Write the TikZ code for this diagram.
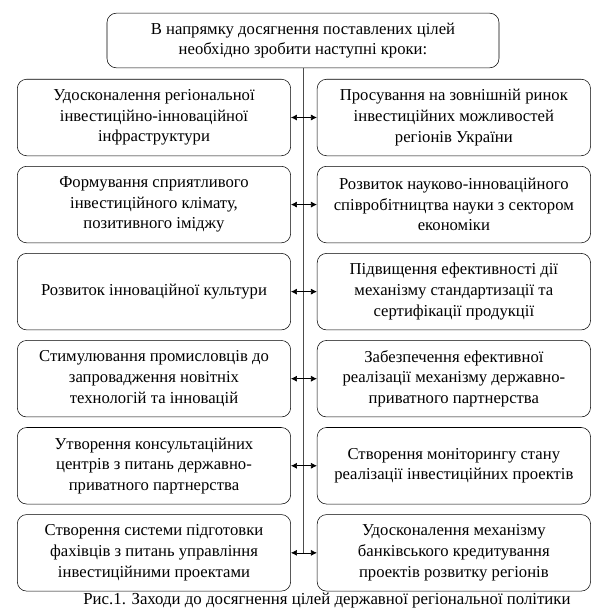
\documentclass[tikz,border=0pt]{standalone}
\usepackage{fontspec}
\setmainfont{Liberation Serif}
\usetikzlibrary{arrows.meta,positioning}

\begin{document}
\begin{tikzpicture}[
  x=0.75pt, y=-0.75pt,
  node distance=7.5pt and 19.5pt,
  goal/.style={draw,rounded corners=7pt,align=center,minimum width=294pt,
    minimum height=41pt,inner sep=2pt,font=\fontsize{12.5}{15.5}\selectfont},
  task/.style={draw,rounded corners=7pt,align=center,minimum width=205pt,
    minimum height=57.4pt,inner sep=2pt,font=\fontsize{12.5}{15.5}\selectfont},
  link/.style={{Latex[length=4.5pt,width=4.5pt]}-{Latex[length=4.5pt,width=4.5pt]},line width=0.5pt},
  spine/.style={draw=black!70,line width=0.6pt}
]
  \useasboundingbox (0,0) rectangle (605,615);
  \node[goal] (goal) at (303,40.5) {В напрямку досягнення поставлених цілей\\необхідно зробити наступні кроки:};
  % left column
  \node[task] (infra) at (154,117.5) {Удосконалення регіональної\\інвестиційно-інноваційної\\інфраструктури};
  \node[task,below=of infra] (climate) {Формування сприятливого\\інвестиційного клімату,\\позитивного іміджу};
  \node[task,below=of climate] (culture) {Розвиток інноваційної культури};
  \node[task,below=of culture] (industry) {Стимулювання промисловців до\\запровадження новітніх\\технологій та інновацій};
  \node[task,below=of industry] (consult) {Утворення консультаційних\\центрів з питань державно-\\приватного партнерства};
  \node[task,below=of consult] (training) {Створення системи підготовки\\фахівців з питань управління\\інвестиційними проектами};
  % right column
  \node[task,right=of infra] (market) {Просування на зовнішній ринок\\інвестиційних можливостей\\регіонів України};
  \node[task,right=of climate] (science) {Розвиток науково-інноваційного\\співробітництва науки з сектором\\економіки};
  \node[task,right=of culture] (standard) {Підвищення ефективності дії\\механізму стандартизації та\\сертифікації продукції};
  \node[task,right=of industry] (ppp) {Забезпечення ефективної\\реалізації механізму державно-\\приватного партнерства};
  \node[task,right=of consult] (monitor) {Створення моніторингу стану\\реалізації інвестиційних проектів};
  \node[task,right=of training] (credit) {Удосконалення механізму\\банківського кредитування\\проектів розвитку регіонів};
  \draw[spine] (goal.south) -- (goal.south |- training.east);
  \draw[link] (infra) -- (market);
  \draw[link] (climate) -- (science);
  \draw[link] (culture) -- (standard);
  \draw[link] (industry) -- (ppp);
  \draw[link] (consult) -- (monitor);
  \draw[link] (training) -- (credit);
  \node[font=\fontsize{12.6}{14}\selectfont] (caption) at (327,601) {Рис.1. Заходи до досягнення цілей державної регіональної політики};
\end{tikzpicture}
\end{document}
